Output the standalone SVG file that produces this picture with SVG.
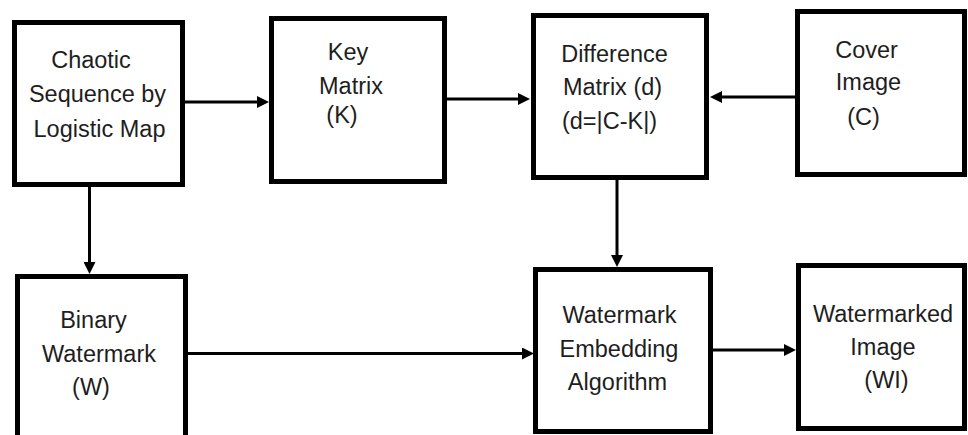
<svg xmlns="http://www.w3.org/2000/svg" width="968" height="435" viewBox="0 0 968 435">
  <style>
    .box { fill: #ffffff; stroke: #000000; stroke-width: 5; }
    .lbl { font-family: "Liberation Sans", Arial, sans-serif; font-size: 23.5px; fill: #1e1e1e; text-anchor: middle; }
    .lbl-l { text-anchor: start; }
    .link { stroke: #000000; stroke-width: 3; fill: none; marker-end: url(#head); }
  </style>
  <defs>
    <marker id="head" viewBox="0 0 12 12" refX="2" refY="6" markerWidth="12" markerHeight="12" markerUnits="userSpaceOnUse" orient="auto">
      <path d="M0,0 L12,6 L0,12 z" fill="#000000"/>
    </marker>
  </defs>
  <rect width="968" height="435" fill="#ffffff"/>

  <g id="connectors">
    <line class="link" x1="185" y1="102" x2="259" y2="102"/>
    <line class="link" x1="447" y1="99" x2="520" y2="99"/>
    <line class="link" x1="795" y1="97" x2="720" y2="97"/>
    <line class="link" x1="89.5" y1="187" x2="89.5" y2="264"/>
    <line class="link" x1="617" y1="180" x2="617" y2="257"/>
    <line class="link" x1="188" y1="353.5" x2="524" y2="353.5"/>
    <line class="link" x1="713" y1="350" x2="786" y2="350"/>
  </g>

  <g id="chaotic-sequence">
    <rect class="box" x="14.5" y="22.5" width="168" height="162"/>
    <text class="lbl" x="91" y="68">Chaotic</text>
    <text class="lbl" x="97.5" y="102">Sequence by</text>
    <text class="lbl" x="99.5" y="136.5">Logistic Map</text>
  </g>

  <g id="key-matrix">
    <rect class="box" x="271.5" y="18.5" width="173" height="163"/>
    <text class="lbl" x="348" y="60">Key</text>
    <text class="lbl" x="351" y="94">Matrix</text>
    <text class="lbl" x="342" y="123">(K)</text>
  </g>

  <g id="difference-matrix">
    <rect class="box" x="533.5" y="15.5" width="173" height="162"/>
    <text class="lbl" x="614.5" y="62">Difference</text>
    <text class="lbl" x="612.5" y="95">Matrix (d)</text>
    <text class="lbl" x="609.5" y="129">(d=|C-K|)</text>
  </g>

  <g id="cover-image">
    <rect class="box" x="797.5" y="11.5" width="167" height="163"/>
    <text class="lbl" x="866.5" y="58">Cover</text>
    <text class="lbl" x="868.5" y="90">Image</text>
    <text class="lbl" x="863.5" y="125">(C)</text>
  </g>

  <g id="binary-watermark">
    <rect class="box" x="17.5" y="276.5" width="168" height="200"/>
    <text class="lbl" x="93.5" y="328">Binary</text>
    <text class="lbl" x="99" y="362">Watermark</text>
    <text class="lbl" x="91" y="395">(W)</text>
  </g>

  <g id="embedding-algorithm">
    <rect class="box" x="535.5" y="269.5" width="175" height="162"/>
    <text class="lbl" x="619.5" y="323">Watermark</text>
    <text class="lbl" x="619" y="357">Embedding</text>
    <text class="lbl" x="617.5" y="390">Algorithm</text>
  </g>

  <g id="watermarked-image">
    <rect class="box" x="798.5" y="265.5" width="166" height="163"/>
    <text class="lbl" x="883" y="322">Watermarked</text>
    <text class="lbl" x="883" y="355">Image</text>
    <text class="lbl" x="886.5" y="388">(WI)</text>
  </g>
</svg>
